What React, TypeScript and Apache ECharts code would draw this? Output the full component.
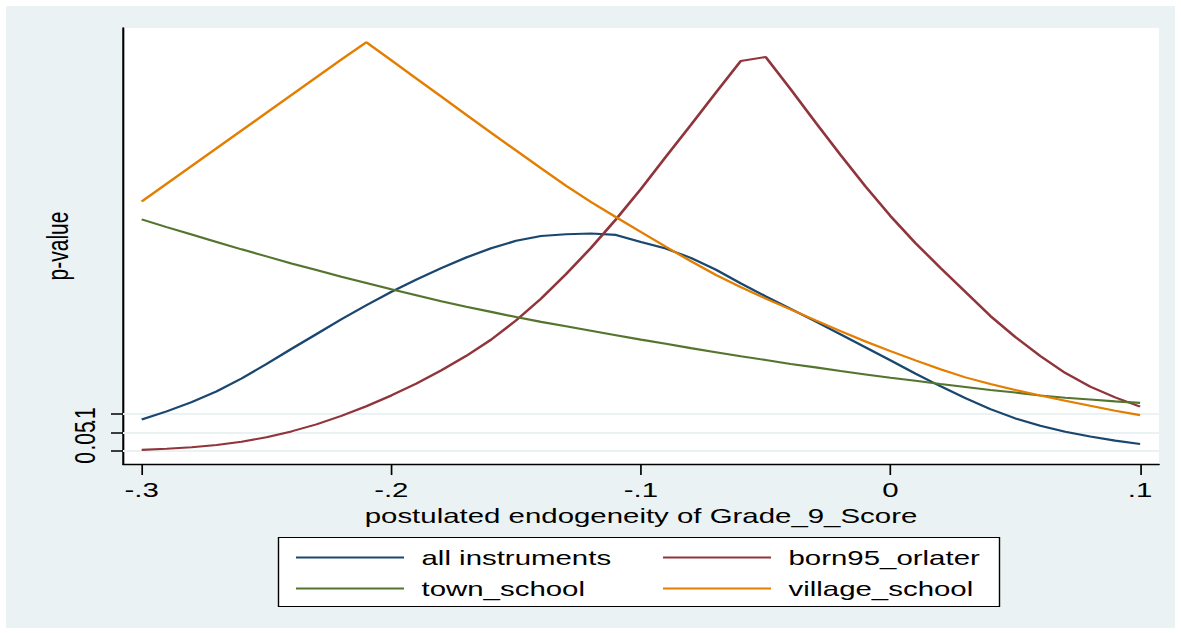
import React, { useEffect, useRef } from "react";
import * as echarts from "echarts";

const xValues = [
  -0.3, -0.29, -0.28, -0.27, -0.26, -0.25, -0.24, -0.23, -0.22, -0.21,
  -0.2, -0.19, -0.18, -0.17, -0.16, -0.15, -0.14, -0.13, -0.12, -0.11,
  -0.1, -0.09, -0.08, -0.07, -0.06, -0.05, -0.04, -0.03, -0.02, -0.01,
  0, 0.01, 0.02, 0.03, 0.04, 0.05, 0.06, 0.07, 0.08, 0.09, 0.1,
];

const allInstruments = [
  0.085, 0.107, 0.132, 0.161, 0.196, 0.235, 0.276, 0.316, 0.356, 0.394,
  0.43, 0.463, 0.494, 0.523, 0.548, 0.568, 0.581, 0.586, 0.588, 0.584,
  0.565, 0.547, 0.522, 0.49, 0.453, 0.418, 0.384, 0.35, 0.315, 0.28,
  0.245, 0.209, 0.175, 0.143, 0.113, 0.088, 0.068, 0.052, 0.039, 0.028, 0.019,
];

const born95Orlater = [
  0.003, 0.006, 0.01, 0.016, 0.025, 0.037, 0.053, 0.072, 0.095, 0.121,
  0.15, 0.182, 0.218, 0.257, 0.301, 0.353, 0.412, 0.478, 0.549, 0.626,
  0.708, 0.795, 0.881, 0.968, 1.054, 1.065, 0.978, 0.888, 0.8, 0.715,
  0.635, 0.562, 0.495, 0.43, 0.365, 0.308, 0.257, 0.211, 0.174, 0.145, 0.12,
];

const townSchool = [
  0.626, 0.605, 0.585, 0.565, 0.545, 0.526, 0.507, 0.489, 0.471, 0.454,
  0.437, 0.421, 0.405, 0.39, 0.376, 0.362, 0.349, 0.337, 0.325, 0.313,
  0.301, 0.29, 0.278, 0.267, 0.256, 0.246, 0.235, 0.226, 0.216, 0.207,
  0.198, 0.19, 0.181, 0.173, 0.165, 0.158, 0.15, 0.144, 0.139, 0.134, 0.13,
];

const villageSchool = [
  0.674, 0.722, 0.77, 0.818, 0.866, 0.914, 0.962, 1.01, 1.058, 1.105,
  1.056, 1.007, 0.958, 0.909, 0.86, 0.812, 0.764, 0.717, 0.673, 0.632,
  0.592, 0.552, 0.513, 0.476, 0.443, 0.412, 0.383, 0.353, 0.324, 0.296,
  0.27, 0.245, 0.221, 0.199, 0.181, 0.165, 0.15, 0.136, 0.122, 0.109, 0.097,
];

const xTicks = [-0.3, -0.2, -0.1, 0, 0.1];
const yTicks = [0, 0.05, 0.1];

const seriesNames = ["all instruments", "born95_orlater", "town_school", "village_school"];
const seriesColors = ["#1A476F", "#90353B", "#55752F", "#E37E00"];

const FONT = "Liberation Sans";
const CHART_W = 843;
const S = 1181 / CHART_W; // horizontal stretch of the whole drawing
const sx = (px: number) => px / S;
const Y_MIN = -0.03514;
const Y_MAX = 1.14324;

function fmt(v: number): string {
  if (Math.abs(v) < 1e-9) return "0";
  const s = String(Math.round(v * 1000) / 1000);
  return s.replace(/^(-?)0\./, "$1.");
}

export default function App() {
  const ref = useRef<HTMLDivElement>(null);
  useEffect(() => {
    if (!ref.current) return;
    const chart = echarts.init(ref.current, undefined, { renderer: "svg" });
    const dataSets = [allInstruments, born95Orlater, townSchool, villageSchool];
    const lineSeries = dataSets.map((vals, i) => ({
      name: seriesNames[i],
      type: "line",
      data: xValues.map((x, j) => [x, vals[j]]),
      symbol: "none",
      showSymbol: false,
      smooth: false,
      z: 3,
      lineStyle: { color: seriesColors[i], width: 2.1 },
      itemStyle: { color: seriesColors[i] },
    }));
    const legendCommon = {
      orient: "vertical",
      top: 542,
      icon: "rect",
      itemWidth: sx(108),
      itemHeight: 2,
      itemGap: 10,
      textStyle: { fontSize: 21, fontFamily: FONT, color: "#000", padding: [0, 0, 0, 7.5] },
    };
    // one y axis per tick so the tightly packed rotated labels all stay visible
    const labelShift = [14, 7, 4];
    const yAxes = yTicks.map((t, k) => ({
      type: "value",
      min: Y_MIN,
      max: Y_MAX,
      position: "left",
      offset: 0,
      name: k === 0 ? "p-value" : "",
      nameLocation: "middle",
      nameGap: 36,
      nameMoveOverlap: false,
      nameTextStyle: { fontSize: 21, fontFamily: FONT, color: "#000" },
      axisLine: { show: k === 0, onZero: false, lineStyle: { color: "#000", width: 1.5 } },
      axisTick: { show: true, length: sx(12), customValues: [t], lineStyle: { color: "#000", width: 1.5 } },
      axisLabel: {
        show: true,
        customValues: [t],
        rotate: 90,
        formatter: (v: number) => "{a|" + fmt(v) + "}",
        rich: { a: { fontSize: 21, fontFamily: FONT, color: "#000", padding: [0, labelShift[k], 0, 0] } },
        fontSize: 21,
        fontFamily: FONT,
        color: "#000",
        margin: 17,
        hideOverlap: false,
        showMinLabel: true,
        showMaxLabel: true,
      },
      splitLine: { show: false },
    }));
    const option = {
      animation: false,
      backgroundColor: "#ffffff",
      textStyle: { fontFamily: FONT },
      graphic: [
        {
          type: "rect",
          z: -10,
          shape: { x: sx(6), y: 6, width: sx(1169), height: 622 },
          style: { fill: "#EAF2F3" },
          silent: true,
        },
        {
          type: "rect",
          z: -9,
          shape: { x: sx(123), y: 28, width: sx(1036), height: 436 },
          style: { fill: "#ffffff" },
          silent: true,
        },
        {
          type: "rect",
          z: -9,
          shape: { x: sx(278.5), y: 537.5, width: sx(721), height: 69 },
          style: { fill: "#ffffff", stroke: "#000000", lineWidth: 1 },
          silent: true,
        },
      ],
      grid: { left: sx(123), top: 28, width: sx(1036), height: 436, containLabel: false },
      legend: [
        { ...legendCommon, data: [seriesNames[0], seriesNames[2]], left: sx(289) },
        { ...legendCommon, data: [seriesNames[1], seriesNames[3]], left: sx(656) },
      ],
      xAxis: {
        type: "value",
        min: -0.30749,
        max: 0.10757,
        name: "postulated endogeneity of Grade_9_Score",
        nameLocation: "middle",
        nameGap: 33,
        nameTextStyle: { fontSize: 21, fontFamily: FONT, color: "#000" },
        axisLine: { show: true, onZero: false, lineStyle: { color: "#000", width: 1.3 } },
        axisTick: { show: true, length: 11, customValues: xTicks, lineStyle: { color: "#000", width: 1.2 } },
        axisLabel: {
          show: true,
          customValues: xTicks,
          formatter: (v: number) => fmt(v),
          fontSize: 21,
          fontFamily: FONT,
          color: "#000",
          margin: 15,
          hideOverlap: false,
          showMinLabel: true,
          showMaxLabel: true,
        },
        splitLine: { show: false },
      },
      yAxis: yAxes,
      series: [
        {
          name: "grid",
          type: "line",
          data: [],
          z: 1,
          silent: true,
          markLine: {
            z: 1,
            silent: true,
            symbol: "none",
            label: { show: false },
            lineStyle: { color: "#EAF2F3", width: 2, type: "solid" },
            data: yTicks.map((t) => ({ yAxis: t })),
          },
        },
        ...lineSeries,
      ],
    };
    chart.setOption(option as any);
    return () => chart.dispose();
  }, []);
  return (
    <div
      ref={ref}
      style={{
        position: "absolute",
        left: 0,
        top: 0,
        width: CHART_W,
        height: 633,
        transform: `scaleX(${S})`,
        transformOrigin: "0 0",
      }}
    />
  );
}
